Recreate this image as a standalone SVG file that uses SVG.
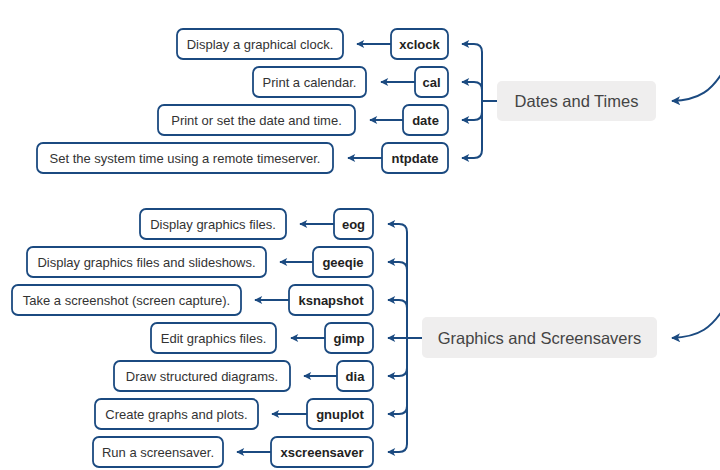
<svg xmlns="http://www.w3.org/2000/svg" width="720" height="470" viewBox="0 0 720 470">
<style>
.box{fill:#fff;stroke:#1b4a80;stroke-width:1.8}
.cat{fill:#efeeee;stroke:none}
.d{font-family:"Liberation Sans",Arial,sans-serif;font-size:13px;fill:#333;text-anchor:middle;dominant-baseline:central}
.c{font-family:"Liberation Sans",Arial,sans-serif;font-size:13px;font-weight:bold;fill:#222;text-anchor:middle;dominant-baseline:central}
.t{font-family:"Liberation Sans",Arial,sans-serif;font-size:16.5px;fill:#444;text-anchor:middle;dominant-baseline:central}
.ln{fill:none;stroke:#1b4a80;stroke-width:2}
.ar{marker-end:url(#ah)}
.big{marker-end:url(#ahb)}
</style>
<defs>
<marker id="ah" viewBox="0 0 10 10" refX="9" refY="5" markerWidth="4.5" markerHeight="4" orient="auto" markerUnits="strokeWidth">
<path d="M0,0 L10,5 L0,10 L2.5,5 z" fill="#1b4a80"/>
</marker>
<marker id="ahb" viewBox="0 0 10 10" refX="9" refY="5" markerWidth="6" markerHeight="4.5" orient="auto" markerUnits="strokeWidth">
<path d="M0,0 L10,5 L0,10 L2.5,5 z" fill="#1b4a80"/>
</marker>
</defs>
<rect width="720" height="470" fill="#fff"/>

<g id="connectors">
<!-- incoming curves -->
<path class="ln big" d="M724,70 C712,90 700,100 672,101"/>
<path class="ln big" d="M724,308 C712,327 700,337 672,338"/>
<!-- Dates bracket -->
<path class="ln ar" d="M497,101 H482 V52 Q482,44 474,44 H462"/>
<path class="ln ar" d="M482,101 V90 Q482,82 474,82 H462"/>
<path class="ln ar" d="M482,101 V112 Q482,120 474,120 H462"/>
<path class="ln ar" d="M482,101 V150 Q482,158 474,158 H462"/>
<!-- Dates details -->
<path class="ln ar" d="M391,44 H357"/>
<path class="ln ar" d="M415,82 H381"/>
<path class="ln ar" d="M403,120 H370"/>
<path class="ln ar" d="M382,158 H348"/>
<!-- Graphics bracket -->
<path class="ln ar" d="M422,338 H388"/>
<path class="ln ar" d="M407,338 V232 Q407,224 399,224 H388"/>
<path class="ln ar" d="M407,338 V270 Q407,262 399,262 H388"/>
<path class="ln ar" d="M407,338 V308 Q407,300 399,300 H388"/>
<path class="ln ar" d="M407,338 V368 Q407,376 399,376 H388"/>
<path class="ln ar" d="M407,338 V406 Q407,414 399,414 H388"/>
<path class="ln ar" d="M407,338 V444 Q407,452 399,452 H388"/>
<!-- Graphics details -->
<path class="ln ar" d="M334,224 H300"/>
<path class="ln ar" d="M313,262 H280"/>
<path class="ln ar" d="M289,300 H255"/>
<path class="ln ar" d="M325,338 H291"/>
<path class="ln ar" d="M337,376 H304"/>
<path class="ln ar" d="M307,414 H272"/>
<path class="ln ar" d="M271,452 H237"/>
</g>

<g id="dates">
<rect class="cat" x="497" y="81" width="159" height="40" rx="5"/>
<text class="t" x="576.5" y="101">Dates and Times</text>
</g>
<g id="xclock"><rect class="box" x="391" y="29" width="57" height="30" rx="6"/><text class="c" x="419.5" y="44">xclock</text></g>
<g id="xclock-desc"><rect class="box" x="177" y="29" width="166" height="30" rx="6"/><text class="d" x="260" y="44">Display a graphical clock.</text></g>
<g id="cal"><rect class="box" x="415" y="67" width="33" height="30" rx="6"/><text class="c" x="431.5" y="82">cal</text></g>
<g id="cal-desc"><rect class="box" x="253" y="67" width="113" height="30" rx="6"/><text class="d" x="309.5" y="82">Print a calendar.</text></g>
<g id="date"><rect class="box" x="403" y="105" width="45" height="30" rx="6"/><text class="c" x="425.5" y="120">date</text></g>
<g id="date-desc"><rect class="box" x="158" y="105" width="197" height="30" rx="6"/><text class="d" x="256.5" y="120">Print or set the date and time.</text></g>
<g id="ntpdate"><rect class="box" x="382" y="143" width="66" height="30" rx="6"/><text class="c" x="415" y="158">ntpdate</text></g>
<g id="ntpdate-desc"><rect class="box" x="37" y="143" width="296" height="30" rx="6"/><text class="d" x="185" y="158">Set the system time using a remote timeserver.</text></g>

<g id="graphics">
<rect class="cat" x="422" y="317" width="235" height="41" rx="5"/>
<text class="t" x="539.5" y="338">Graphics and Screensavers</text>
</g>
<g id="eog"><rect class="box" x="334" y="209" width="39" height="30" rx="6"/><text class="c" x="353.5" y="224">eog</text></g>
<g id="eog-desc"><rect class="box" x="140" y="209" width="146" height="30" rx="6"/><text class="d" x="213" y="224">Display graphics files.</text></g>
<g id="geeqie"><rect class="box" x="313" y="247" width="60" height="30" rx="6"/><text class="c" x="343" y="262">geeqie</text></g>
<g id="geeqie-desc"><rect class="box" x="27" y="247" width="239" height="30" rx="6"/><text class="d" x="146.5" y="262">Display graphics files and slideshows.</text></g>
<g id="ksnapshot"><rect class="box" x="289" y="285" width="84" height="30" rx="6"/><text class="c" x="331" y="300">ksnapshot</text></g>
<g id="ksnapshot-desc"><rect class="box" x="12" y="285" width="229" height="30" rx="6"/><text class="d" x="126.5" y="300">Take a screenshot (screen capture).</text></g>
<g id="gimp"><rect class="box" x="325" y="323" width="48" height="30" rx="6"/><text class="c" x="349" y="338">gimp</text></g>
<g id="gimp-desc"><rect class="box" x="151" y="323" width="125" height="30" rx="6"/><text class="d" x="213.5" y="338">Edit graphics files.</text></g>
<g id="dia"><rect class="box" x="337" y="361" width="36" height="30" rx="6"/><text class="c" x="355" y="376">dia</text></g>
<g id="dia-desc"><rect class="box" x="114" y="361" width="176" height="30" rx="6"/><text class="d" x="202" y="376">Draw structured diagrams.</text></g>
<g id="gnuplot"><rect class="box" x="307" y="399" width="66" height="30" rx="6"/><text class="c" x="340" y="414">gnuplot</text></g>
<g id="gnuplot-desc"><rect class="box" x="95" y="399" width="163" height="30" rx="6"/><text class="d" x="176.5" y="414">Create graphs and plots.</text></g>
<g id="xscreensaver"><rect class="box" x="271" y="437" width="102" height="30" rx="6"/><text class="c" x="322" y="452">xscreensaver</text></g>
<g id="xscreensaver-desc"><rect class="box" x="93" y="437" width="130" height="30" rx="6"/><text class="d" x="158" y="452">Run a screensaver.</text></g>
</svg>
